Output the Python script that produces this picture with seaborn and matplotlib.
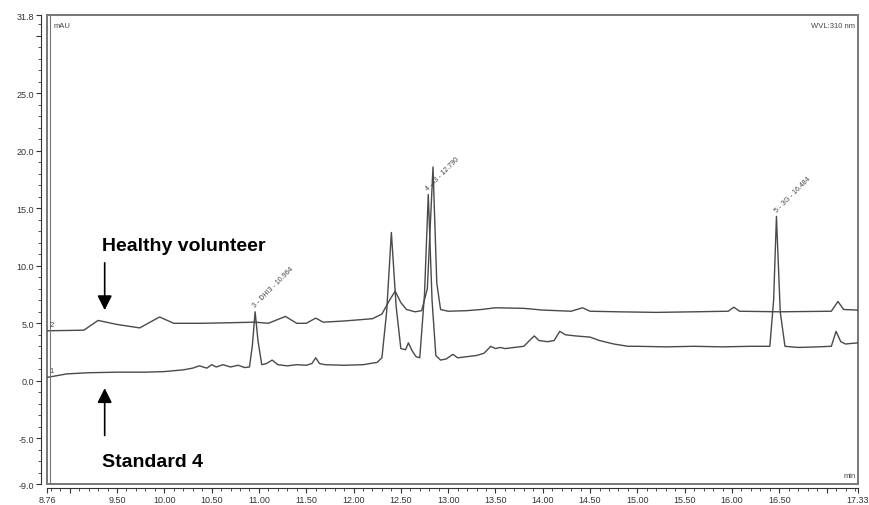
import matplotlib
matplotlib.use("Agg")
import matplotlib.pyplot as plt
from matplotlib.patches import Rectangle
import seaborn as sns
import pandas as pd

# trace 1: Standard 4 (retention time in min, signal in mAU)
std_time = [8.76, 8.80, 8.97, 9.20, 9.50, 9.80, 10.00, 10.20, 10.30, 10.37, 10.45, 10.50,
            10.55, 10.62, 10.70, 10.78, 10.85, 10.90, 10.93, 10.96, 10.99, 11.03, 11.08,
            11.14, 11.20, 11.30, 11.40, 11.50, 11.56, 11.60, 11.64, 11.70, 11.90, 12.10,
            12.25, 12.30, 12.35, 12.40, 12.45, 12.50, 12.55, 12.58, 12.62, 12.66, 12.70,
            12.75, 12.79, 12.83, 12.87, 12.92, 12.98, 13.05, 13.10, 13.20, 13.30, 13.38,
            13.45, 13.50, 13.55, 13.60, 13.70, 13.80, 13.86, 13.91, 13.96, 14.05, 14.12,
            14.18, 14.24, 14.35, 14.50, 14.60, 14.75, 14.90, 15.00, 15.30, 15.60, 15.90,
            16.20, 16.40, 16.44, 16.47, 16.51, 16.56, 16.70, 16.90, 17.05, 17.10, 17.15,
            17.20, 17.33]
std_mau = [0.3, 0.35, 0.6, 0.7, 0.75, 0.75, 0.8, 0.95, 1.1, 1.3, 1.1, 1.4,
           1.2, 1.4, 1.2, 1.35, 1.15, 1.2, 3.0, 6.0, 3.5, 1.4, 1.5,
           1.8, 1.4, 1.3, 1.4, 1.35, 1.5, 2.0, 1.5, 1.4, 1.35, 1.4,
           1.6, 2.0, 6.0, 12.9, 6.5, 2.8, 2.7, 3.3, 2.6, 2.1, 2.0,
           7.5, 16.2, 7.0, 2.2, 1.8, 1.9, 2.3, 2.0, 2.1, 2.2, 2.4,
           3.0, 2.8, 2.9, 2.8, 2.9, 3.0, 3.5, 3.9, 3.5, 3.4, 3.5,
           4.3, 4.0, 3.9, 3.8, 3.5, 3.2, 3.0, 3.0, 2.95, 3.0, 2.95,
           3.0, 3.0, 7.0, 14.3, 6.0, 3.0, 2.9, 2.95, 3.0, 4.3, 3.4,
           3.2, 3.3]

# trace 2: healthy volunteer
vol_time = [8.76, 9.15, 9.30, 9.50, 9.74, 9.95, 10.10, 10.40, 10.70, 10.96, 11.10, 11.28,
            11.40, 11.50, 11.60, 11.68, 11.90, 12.20, 12.30, 12.38, 12.44, 12.50, 12.56,
            12.65, 12.72, 12.78, 12.84, 12.88, 12.92, 13.00, 13.20, 13.35, 13.50, 13.80,
            14.00, 14.30, 14.42, 14.50, 14.80, 15.20, 15.60, 15.96, 16.02, 16.08, 16.50,
            17.05, 17.12, 17.18, 17.33]
vol_mau = [4.35, 4.4, 5.25, 4.9, 4.6, 5.55, 5.0, 5.0, 5.05, 5.1, 5.0, 5.6,
           5.0, 5.0, 5.45, 5.1, 5.2, 5.4, 5.8, 7.0, 7.8, 6.8, 6.2,
           6.0, 6.1, 8.0, 18.6, 8.5, 6.2, 6.05, 6.1, 6.2, 6.35, 6.3,
           6.15, 6.05, 6.35, 6.05, 6.0, 5.95, 6.0, 6.05, 6.4, 6.05, 6.0,
           6.05, 6.9, 6.2, 6.15]

peak_labels = ["3 - DHI3 - 10.964", "4 - I3 - 12.790", "5 - 3G - 16.484"]
peak_time = [10.964, 12.790, 16.484]
peak_mau = [6.0, 16.2, 14.3]

x_ticks = [8.76, 9.00, 9.50, 10.00, 10.50, 11.00, 11.50, 12.00, 12.50, 13.00, 13.50,
           14.00, 14.50, 15.00, 15.50, 16.00, 16.50, 17.00, 17.33]
x_ticklabels = ["8.76", "", "9.50", "10.00", "10.50", "11.00", "11.50", "12.00", "12.50",
                "13.00", "13.50", "14.00", "14.50", "15.00", "15.50", "16.00", "16.50",
                "", "17.33"]
y_ticks = [-9.0, -5.0, 0.0, 5.0, 10.0, 15.0, 20.0, 25.0, 30.0, 31.8]
y_ticklabels = ["-9.0", "-5.0", "0.0", "5.0", "10.0", "15.0", "20.0", "25.0", "", "31.8"]

df = pd.concat([
    pd.DataFrame({"time": std_time, "mAU": std_mau, "trace": "1"}),
    pd.DataFrame({"time": vol_time, "mAU": vol_mau, "trace": "2"}),
])

sns.set_style("white")
plt.rcParams["font.family"] = ["Liberation Sans", "DejaVu Sans"]

fig = plt.figure(figsize=(8.7, 5.06), dpi=100)
ax = fig.add_axes([0.054, 0.041, 0.932, 0.927])

line_col = "#4a4a4a"
sns.lineplot(data=df, x="time", y="mAU", hue="trace", palette=[line_col, line_col],
             estimator=None, sort=False, linewidth=1.0, legend=False, ax=ax)

ax.set_xlim(8.76, 17.33)
ax.set_ylim(-9.0, 31.8)
ax.set_xlabel("")
ax.set_ylabel("")

ax.set_xticks(x_ticks)
ax.set_xticklabels(x_ticklabels)
ax.set_yticks(y_ticks)
ax.set_yticklabels(y_ticklabels)
ax.set_xticks([8.8 + 0.1 * i for i in range(86)], minor=True)
ax.set_yticks(list(range(-9, 32)), minor=True)
ax.tick_params(axis="both", which="major", direction="out", length=3.5, width=0.8,
               labelsize=6.5, labelcolor="#333333", color="#333333")
ax.tick_params(axis="x", which="major", pad=1)
ax.tick_params(axis="y", which="major", pad=2)
ax.tick_params(axis="both", which="minor", direction="out", length=2, width=0.6,
               color="#333333")
ax.tick_params(bottom=True, left=True, which="both")

# axis lines sit a little outside the plot box
for side in ["top", "right"]:
    ax.spines[side].set_visible(False)
ax.spines["left"].set_position(("outward", 4))
ax.spines["bottom"].set_position(("outward", 3))
ax.spines["left"].set_color("#333333")
ax.spines["bottom"].set_color("#333333")
ax.spines["left"].set_linewidth(0.8)
ax.spines["bottom"].set_linewidth(0.8)
ax.add_patch(Rectangle((0, 0), 1, 1, transform=ax.transAxes, fill=False,
                       edgecolor="#777777", linewidth=1.4, clip_on=False))
ax.plot([0.004, 0.004], [0, 1], transform=ax.transAxes, color="#777777",
        linewidth=0.8, clip_on=False)

# corner texts
ax.text(0.008, 0.985, "mAU", transform=ax.transAxes, fontsize=5.5, color="#444444",
        ha="left", va="top")
ax.text(0.997, 0.985, "WVL:310 nm", transform=ax.transAxes, fontsize=5.5,
        color="#444444", ha="right", va="top")
ax.text(0.997, 0.012, "min", transform=ax.transAxes, fontsize=5.5, color="#444444",
        ha="right", va="bottom")
ax.text(8.79, std_mau[0] + 0.25, "1", fontsize=5.5, color="#444444", va="bottom")
ax.text(8.79, vol_mau[0] + 0.25, "2", fontsize=5.5, color="#444444", va="bottom")

# peak labels
for lab, t, v in zip(peak_labels, peak_time, peak_mau):
    ax.text(t + 0.01, v + 0.3, lab, fontsize=5, color="#444444", rotation=45,
            rotation_mode="anchor", ha="left", va="bottom")

# sample annotations
arrow = dict(arrowstyle="-|>", color="black", lw=1.2, mutation_scale=22)
ax.annotate("", xy=(9.37, 5.9), xytext=(9.37, 10.5), arrowprops=arrow)
ax.annotate("", xy=(9.37, -0.4), xytext=(9.37, -5.0), arrowprops=arrow)
ax.text(9.34, 11.8, "Healthy volunteer", fontsize=14, fontweight="bold",
        color="black", ha="left", va="center")
ax.text(9.34, -7.0, "Standard 4", fontsize=14, fontweight="bold",
        color="black", ha="left", va="center")

fig.savefig("out.png", dpi=100)
